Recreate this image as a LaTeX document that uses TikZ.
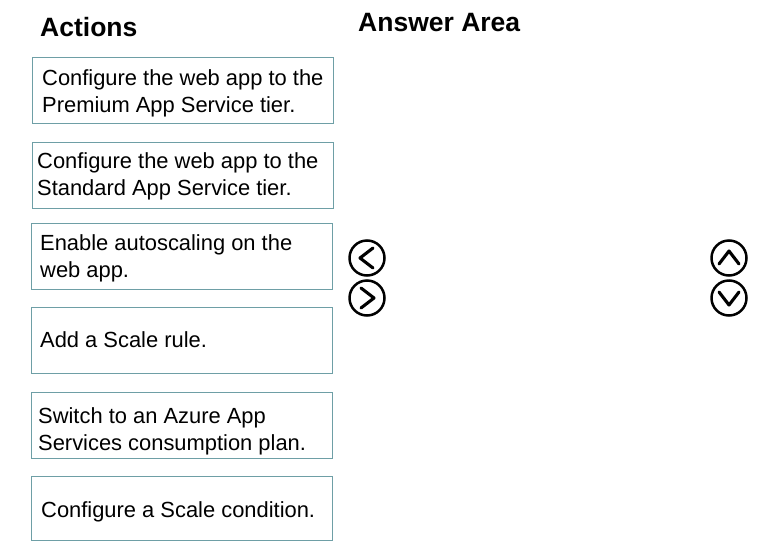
\documentclass[tikz,border=0pt]{standalone}
\usepackage{fontspec}
\setmainfont{Liberation Sans}
\definecolor{boxline}{HTML}{6E9FA6}
\begin{document}
\begin{tikzpicture}[x=1pt,y=-1pt,
  actbox/.style={draw=boxline,line width=1.3pt,rectangle,minimum width=301pt,minimum height=66pt,anchor=north west},
  acttext/.style={font=\fontsize{21.9}{27}\selectfont,align=left,anchor=base west,inner sep=0pt},
  hdr/.style={font=\fontsize{26.5}{30}\selectfont\bfseries,anchor=base west,inner sep=0pt},
  btn/.style={circle,draw=black,line width=2.5pt,minimum size=35pt,inner sep=0pt},
  chev/.style={line width=3.1pt,line cap=round,line join=round}]
\useasboundingbox (0,0) rectangle (767,546);
\fill[white] (0,0) rectangle (767,546);
\node[hdr] (actions) at (40,36) {Actions};
\node[hdr] (answer) at (358,31) {Answer Area};

\node[actbox] (b1) at (32,57) {};
\node[actbox] (b2) at (32,142) {};
\node[actbox] (b3) at (31,223) {};
\node[actbox] (b4) at (31,307) {};
\node[actbox] (b5) at (31,392) {};
\node[actbox,minimum height=64pt] (b6) at (31,476) {};

\node[acttext] (t1) at (42,112) {Configure the web app to the\\Premium App Service tier.};
\node[acttext] (t2) at (37,195) {Configure the web app to the\\Standard App Service tier.};
\node[acttext] (t3) at (40,277) {Enable autoscaling on the\\web app.};
\node[acttext] (t4) at (40,347) {Add a Scale rule.};
\node[acttext] (t5) at (38,450) {Switch to an Azure App\\Services consumption plan.};
\node[acttext] (t6) at (41,517) {Configure a Scale condition.};

\node[btn] (left) at (367,258) {};
\node[btn] (right) at (367,298) {};
\node[btn] (up) at (729,258) {};
\node[btn] (down) at (729,298) {};
\draw[chev] ([shift={(6,-10)}]left.center) -- ([shift={(-7,0)}]left.center) -- ([shift={(6,10)}]left.center);
\draw[chev] ([shift={(-6,-10)}]right.center) -- ([shift={(7,0)}]right.center) -- ([shift={(-6,10)}]right.center);
\draw[chev] ([shift={(-10,6)}]up.center) -- ([shift={(0,-7)}]up.center) -- ([shift={(10,6)}]up.center);
\draw[chev] ([shift={(-10,-6)}]down.center) -- ([shift={(0,7)}]down.center) -- ([shift={(10,-6)}]down.center);
\end{tikzpicture}
\end{document}
